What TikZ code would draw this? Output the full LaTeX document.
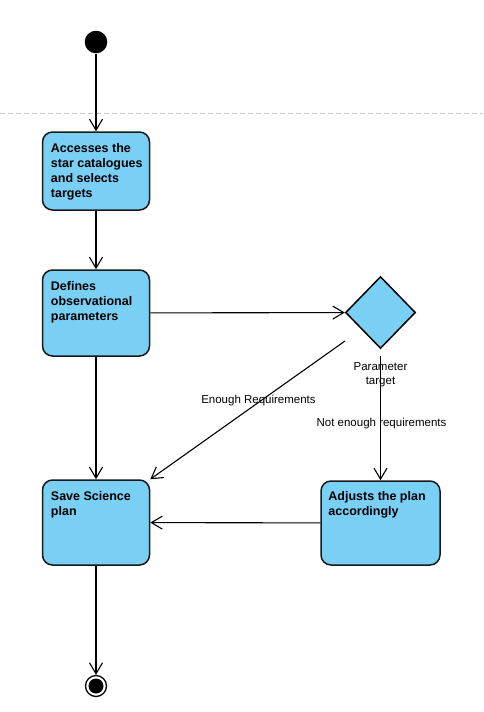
\documentclass[tikz,border=0pt]{standalone}
\usepackage{fontspec}
\setmainfont{Liberation Sans}
\usetikzlibrary{arrows.meta,shapes.geometric,calc}
\definecolor{actfill}{RGB}{122,207,245}
\definecolor{swim}{RGB}{200,200,200}
\begin{document}
\begin{tikzpicture}[x=1pt,y=-1pt,
  act/.style={draw=black!90, line width=1.5pt, rounded corners=10pt, fill=actfill, inner sep=0pt},
  acttext/.style={anchor=north west, inner sep=0pt, align=left, font=\fontsize{12.5}{15}\selectfont\bfseries},
  guard/.style={inner sep=0pt, align=center, font=\fontsize{11.5}{14}\selectfont},
  flow/.style={line width=1.1pt, -{Straight Barb[length=11pt,width=13pt,line width=1.1pt]}},
]
\useasboundingbox (0,0) rectangle (483,712);

% swimlane separator
\draw[swim, line width=0.8pt, dash pattern=on 5pt off 3pt] (0,113) -- (483,113);

% initial and final states
\node[circle, fill=black, minimum size=22.6pt, inner sep=0pt] (start) at (96,42) {};
\node[circle, draw=black, line width=1.3pt, minimum size=21pt, inner sep=0pt,
      path picture={\fill[black] (path picture bounding box.center) circle (7.5pt);}] (end) at (96,686) {};

% activities
\node[act, minimum width=107pt, minimum height=78pt] (a1) at (96,171) {};
\node[act, minimum width=107pt, minimum height=86pt] (a2) at (96,313) {};
\node[act, minimum width=107pt, minimum height=85pt] (a3) at (96,522.5) {};
\node[act, minimum width=119pt, minimum height=84pt] (a4) at (380.5,523) {};

\node[acttext] (a1t) at ($(a1.north west)+(9,11.5)$) {Accesses the\\star catalogues\\and selects\\targets};
\node[acttext] (a2t) at ($(a2.north west)+(9,11.5)$) {Defines\\observational\\parameters};
\node[acttext] (a3t) at ($(a3.north west)+(9,11.5)$) {Save Science\\plan};
\node[acttext] (a4t) at ($(a4.north west)+(8,10.5)$) {Adjusts the plan\\accordingly};

% decision
\node[diamond, draw=black, line width=1.5pt, fill=actfill, minimum width=70pt, minimum height=72pt, inner sep=0pt] (d) at (380.5,312.5) {};
\node[guard] (dlab) at (380.5,375) {Parameter\\target};

% control flows
\draw[flow] (start) -- (a1);
\draw[flow] (a1) -- (a2);
\draw[flow] (a2) -- (d);
\draw[flow] (a2) -- (a3);
\coordinate (dq) at (345,341);
\draw[flow] (dq) -- (a3.north east);
\coordinate (dp) at (380.5,356);
\draw[flow] (dp) -- (a4);
\draw[flow] (a4) -- (a3);
\draw[flow] (a3) -- (end);

% guards
\node[guard] (g1) at (258.5,401) {Enough Requirements};
\node[guard] (g2) at (381.5,424) {Not enough requirements};
\end{tikzpicture}
\end{document}
